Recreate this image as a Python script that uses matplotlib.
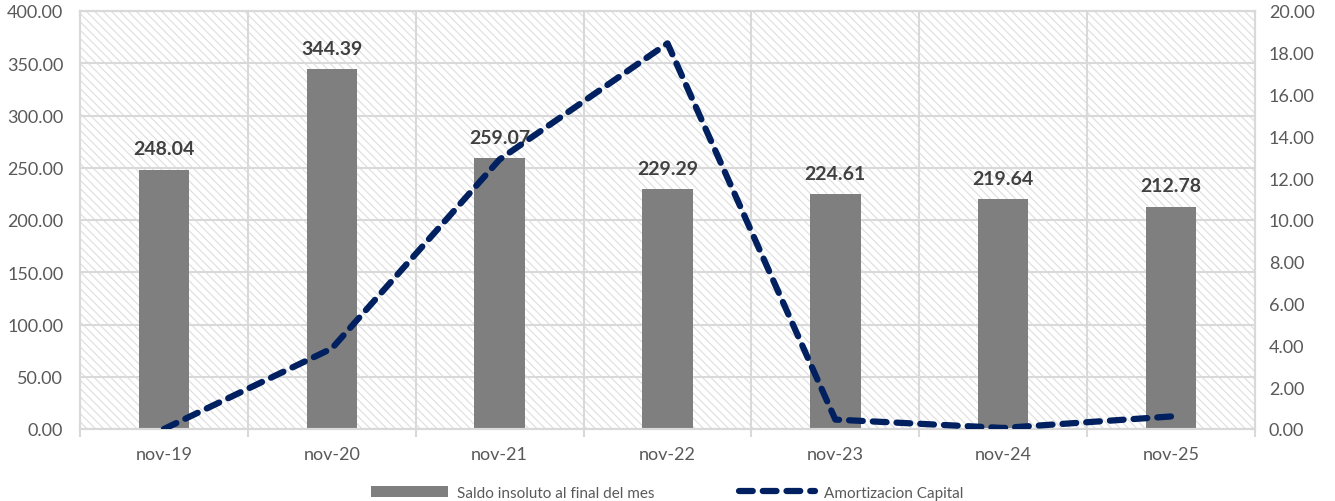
import numpy as np
import matplotlib.pyplot as plt
import matplotlib as mpl

plt.rcParams['font.family'] = ['Lato', 'DejaVu Sans']
mpl.rcParams['hatch.color'] = '#dedede'
mpl.rcParams['hatch.linewidth'] = 0.8

# data
months = ["nov-19", "nov-20", "nov-21", "nov-22", "nov-23", "nov-24", "nov-25"]
saldo = [248.04, 344.39, 259.07, 229.29, 224.61, 219.64, 212.78]
amortizacion = [0.0, 3.85, 12.9, 18.45, 0.45, 0.05, 0.6]

x = np.arange(len(months))

fig = plt.figure(figsize=(13.35, 5.02), dpi=100)
ax = fig.add_axes([80/1335, 1 - 430/502, 1175/1335, 418/502])
ax2 = ax.twinx()

# hatched background
ax.patch.set_facecolor('white')
ax.patch.set_hatch('\\\\\\\\')
ax.patch.set_edgecolor('#dedede')

grid_c = '#d9d9d9'
ax.set_axisbelow(True)
ax.yaxis.grid(True, color=grid_c, linewidth=1.5)
for b in np.arange(0.5, len(months) - 1, 1):
    ax.axvline(b, color=grid_c, linewidth=1.5, zorder=0.5)

bars = ax.bar(x, saldo, width=0.3, color='#7f7f7f', zorder=2,
              label='Saldo insoluto al final del mes')
for xi, v in zip(x, saldo):
    ax.text(xi, v + 12, f"{v:.2f}", ha='center', va='bottom',
            fontsize=14, fontweight='bold', color='#404040', zorder=5)

line, = ax2.plot(x, amortizacion, color='#002060', linewidth=4.5,
                 linestyle=(0, (2.2, 1.6)), dash_capstyle='round',
                 label='Amortizacion Capital', zorder=4)

ax.set_xlim(-0.5, len(months) - 0.5)
ax.set_ylim(0, 400)
ax2.set_ylim(0, 20)
ax.set_yticks(np.arange(0, 401, 50))
ax.set_yticklabels([f"{v:.2f}" for v in np.arange(0, 401, 50)])
ax2.set_yticks(np.arange(0, 21, 2))
ax2.set_yticklabels([f"{v:.2f}" for v in np.arange(0, 21, 2)])
ax.set_xticks(x)
ax.set_xticklabels(months)
ax.set_xticks(np.arange(-0.5, len(months), 1), minor=True)

for a in (ax, ax2):
    for s in a.spines.values():
        s.set_color(grid_c)
        s.set_linewidth(1.5)
ax.tick_params(axis='y', length=0, labelsize=13, labelcolor='#595959', pad=12)
ax2.tick_params(axis='y', length=0, labelsize=13, labelcolor='#595959', pad=10)
ax.tick_params(axis='x', which='major', length=0, labelsize=13, labelcolor='#595959', pad=12)
ax.tick_params(axis='x', which='minor', length=6, color=grid_c, width=1.5)

fig.legend(handles=[bars, line], loc='lower center', bbox_to_anchor=(0.5, -0.025),
           ncol=2, frameon=False, fontsize=11, labelcolor='#595959',
           columnspacing=5.5, handlelength=5.0, handletextpad=0.6)

fig.savefig('out.png', dpi=100)
